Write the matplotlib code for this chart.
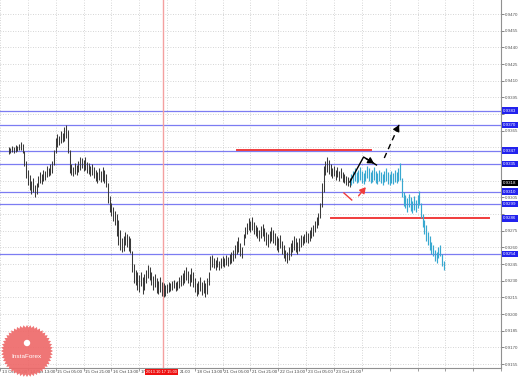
import matplotlib
matplotlib.use('Agg')
import matplotlib.pyplot as plt
import numpy as np
from matplotlib.patches import Polygon

plt.rcParams['font.family'] = ['Liberation Sans', 'DejaVu Sans']

# EURCHF H1 -- prices kept as pips above 0.9000
bar_hi = [350, 349, 351, 350, 352, 351, 353, 355, 353, 347, 338, 330, 325, 320, 322, 316,
          318, 324, 328, 326, 330, 329, 333, 331, 335, 338, 348, 358, 362, 360, 365, 363,
          368, 370, 366, 348, 335, 332, 336, 334, 338, 341, 340, 339, 341, 337, 336, 333,
          335, 332, 330, 328, 331, 329, 332, 330, 326, 318, 306, 300, 296, 293, 290, 285,
          276, 268, 270, 274, 272, 270, 268, 257, 245, 240, 238, 235, 238, 233, 236, 240,
          244, 242, 238, 234, 236, 232, 230, 233, 229, 228, 226, 227, 229, 228, 230, 231,
          229, 230, 233, 235, 237, 240, 242, 239, 236, 241, 238, 232, 228, 230, 233, 229,
          231, 228, 232, 238, 252, 253, 250, 249, 251, 248, 250, 252, 250, 253, 251, 254,
          256, 258, 262, 266, 269, 264, 260, 272, 278, 282, 286, 284, 287, 283, 280, 278,
          276, 279, 281, 277, 274, 272, 275, 278, 276, 273, 270, 268, 271, 266, 262, 258,
          256, 260, 264, 267, 270, 268, 265, 268, 271, 270, 272, 275, 273, 276, 278, 280,
          284, 287, 291, 300, 318, 333, 338, 341, 339, 335, 331, 333, 330, 332, 329, 331,
          328, 326, 324, 323, 322,
          # pasted continuation (cyan)
          326, 329, 331, 328, 330, 332, 329, 327, 330, 333, 331, 328, 330, 332, 329, 327,
          330, 328, 326, 329, 331, 328, 326, 329, 327, 330, 328, 331, 336, 322, 310, 307,
          304, 308, 305, 302, 306, 303, 307, 311, 300, 290, 285, 280, 274, 270, 265, 262,
          258, 256, 260, 262, 254, 248]
bar_lo = [344, 345, 346, 345, 346, 347, 348, 348, 345, 333, 322, 316, 312, 308, 310, 305,
          308, 314, 318, 317, 320, 321, 323, 324, 325, 327, 334, 345, 350, 352, 354, 355,
          356, 358, 345, 327, 325, 324, 326, 325, 328, 330, 331, 329, 330, 327, 326, 324,
          325, 322, 320, 318, 321, 319, 320, 318, 314, 300, 292, 288, 284, 280, 270, 262,
          258, 256, 257, 262, 260, 257, 255, 238, 228, 226, 222, 220, 225, 218, 222, 228,
          232, 231, 226, 222, 224, 219, 218, 220, 216, 215, 216, 219, 220, 221, 222, 223,
          221, 222, 223, 225, 226, 228, 231, 228, 225, 229, 224, 220, 216, 218, 221, 217,
          219, 215, 218, 226, 240, 242, 241, 240, 242, 240, 241, 243, 242, 244, 243, 245,
          246, 248, 250, 254, 256, 252, 250, 262, 268, 272, 276, 274, 276, 272, 270, 268,
          266, 268, 270, 266, 262, 260, 264, 266, 264, 262, 258, 256, 259, 254, 250, 248,
          246, 249, 252, 256, 258, 256, 254, 257, 260, 262, 264, 265, 264, 266, 268, 270,
          274, 277, 280, 286, 296, 310, 325, 328, 326, 324, 322, 324, 321, 323, 320, 322,
          319, 318, 316, 315, 314,
          316, 318, 320, 318, 319, 321, 318, 317, 320, 322, 320, 318, 319, 321, 318, 317,
          320, 318, 316, 319, 320, 317, 316, 318, 317, 319, 318, 320, 321, 305, 297, 295,
          292, 296, 293, 291, 294, 292, 295, 298, 286, 278, 272, 266, 262, 258, 254, 252,
          248, 246, 250, 252, 243, 240]
cyan_from = 197

blue_levels = [0.9383, 0.9370, 0.9347, 0.9335, 0.9310, 0.9299, 0.9254]
red_level = 0.9286
red_top_level = 0.9348
last_price = 0.9318
price_ticks = [0.9155 + 0.0015 * k for k in range(22)]

# bottom labels; the two under the red time tag only show their visible part
time_labels = ['13 Oct 21:00', '14 Oct 13:00', '15 Oct 05:00', '15 Oct 21:00', '16 Oct 13:00',
               '17', '', '18 Oct 13:00', '21 Oct 05:00', '21 Oct 21:00',
               '22 Oct 13:00', '23 Oct 05:00', '23 Oct 21:00']
after_tag_label = '21:00'
first_tick = -5      # bar index of '13 Oct 21:00'
bars_per_label = 16
vline_bar = 88.6
vline_text = '2013.10.17 15:00'

# forecast arrows (bar index, price)
black_path_x = [196.1, 204.0, 211.4]
black_path_y = [0.93188, 0.93413, 0.93341]
dash_x = [215.9, 224.4]
dash_y = [0.93404, 0.93701]
red_a_x = [192.7, 197.2]
red_a_y = [0.93089, 0.93026]
red_b_x = [200.1, 206.3]
red_b_y = [0.93044, 0.93161]

W, H = 519, 378
fig = plt.figure(figsize=(W / 100, H / 100), dpi=100)
fig.patch.set_facecolor('white')
ax = fig.add_axes([0, 10 / H, 501 / W, 368 / H])
ax.set_xlim(-0.5, 282.5)
ax.set_ylim(0.91514, 0.94826)

hi = 0.9 + np.array(bar_hi) / 1e4
lo = 0.9 + np.array(bar_lo) / 1e4
idx = np.arange(len(hi))

# grid
grid_kw = dict(color='#c8c8c8', lw=0.6, ls=(0, (1, 2)), zorder=0)
for p in price_ticks:
    ax.axhline(p, **grid_kw)
tick_bars = [first_tick + bars_per_label * k for k in range(19)]
for b in tick_bars:
    ax.axvline(b, **grid_kw)

# horizontal levels
for lv in blue_levels:
    ax.axhline(lv, color='#7c7cf2', lw=0.9, zorder=1)
ax.plot([185.4, 276.3], [red_level, red_level], color='#f03c3c', lw=1.4, zorder=1)
ax.plot([131.1, 208.0], [red_top_level, red_top_level], color='#f03c3c', lw=1.4, zorder=1)
ax.axvline(vline_bar, color='#f4a0a0', lw=1.0, zorder=1)

# bars
ax.vlines(idx[:cyan_from], lo[:cyan_from], hi[:cyan_from], colors='#3a3a3a', lw=0.75, zorder=3)
ax.vlines(idx[cyan_from:], lo[cyan_from:], hi[cyan_from:], colors='#38a8d0', lw=0.85, zorder=3)

# arrows
ahead = '-|>,head_length=0.35,head_width=0.2'
ax.plot(black_path_x, black_path_y, color='black', lw=1.0, zorder=5)
ax.annotate('', xy=(black_path_x[-1], black_path_y[-1]), xytext=(black_path_x[-2], black_path_y[-2]),
            arrowprops=dict(arrowstyle=ahead, color='black', lw=1.0), zorder=5)
ax.plot(dash_x, dash_y, color='black', lw=1.0, ls=(0, (4, 3)), zorder=5)
ax.annotate('', xy=(dash_x[1], dash_y[1]), xytext=(dash_x[1] - 0.8, dash_y[1] - 0.00025),
            arrowprops=dict(arrowstyle=ahead, color='black', lw=1.0), zorder=5)
ax.plot(red_a_x, red_a_y, color='#f03c3c', lw=1.0, zorder=5)
ax.annotate('', xy=(red_b_x[1], red_b_y[1]), xytext=(red_b_x[0], red_b_y[0]),
            arrowprops=dict(arrowstyle=ahead, color='#f03c3c', lw=1.0), zorder=5)

# axes frame
for s in ['left', 'top']:
    ax.spines[s].set_visible(False)
for s in ['right', 'bottom']:
    ax.spines[s].set_color('#909090')
    ax.spines[s].set_linewidth(0.8)

# right scale: labels hidden where a price tag sits on top of them
tags = blue_levels + [red_level, last_price]
ax.yaxis.tick_right()
ax.set_yticks(price_ticks)
ax.set_yticklabels(['' if min(abs(p - t) for t in tags) < 0.00045 else '%.4f' % p
                    for p in price_ticks])
ax.tick_params(axis='y', labelsize=3.2, colors='#555555', length=2, width=0.5, pad=1)
ax.set_xticks(tick_bars)
ax.set_xticklabels([])
ax.tick_params(axis='x', length=2, width=0.5, colors='#777777')

# time labels
xt = ax.get_xaxis_transform()
for k, lab in enumerate(time_labels):
    ax.text(first_tick + bars_per_label * k + 1.0, -0.012, lab, transform=xt, fontsize=3.2,
            color='#444444', ha='left', va='center', clip_on=False)
ax.text(vline_bar + 10.0, -0.012, after_tag_label, transform=xt, fontsize=3.2,
        color='#444444', ha='left', va='center', clip_on=False)
ax.text(vline_bar - 1.0, -0.012, vline_text, transform=xt, fontsize=2.9, color='white',
        ha='center', va='center', clip_on=False, zorder=6,
        bbox=dict(boxstyle='square,pad=0.25', fc='#ee1111', ec='none'))

# price tags
yt = ax.get_yaxis_transform()
for lv in blue_levels + [red_level]:
    ax.text(1.004, lv, '%.4f' % lv, transform=yt, fontsize=3.2, color='white', ha='left',
            va='center', clip_on=False, zorder=6,
            bbox=dict(boxstyle='square,pad=0.3', fc='#2222ee', ec='none'))
ax.text(1.004, last_price, '%.4f' % last_price, transform=yt, fontsize=3.2, color='white', ha='left',
        va='center', clip_on=False, zorder=6,
        bbox=dict(boxstyle='square,pad=0.3', fc='black', ec='none'))

# InstaForex badge
lax = fig.add_axes([0, 0, 1, 1])
lax.set_xlim(0, W)
lax.set_ylim(H, 0)
lax.axis('off')
n = 48
ang = np.linspace(0, 2 * np.pi, 2 * n, endpoint=False)
rad = np.where(np.arange(2 * n) % 2 == 0, 26.0, 23.5)
star = np.column_stack([27 + rad * np.cos(ang), 351 + rad * np.sin(ang)])
lax.add_patch(Polygon(star, closed=True, fc='#ee6a6a', ec='none', alpha=0.92))
lax.add_patch(plt.Circle((27, 343), 3.2, fc='white', ec='none'))
lax.text(27, 356, 'InstaForex', fontsize=4.6, color='white', ha='center', va='center')

fig.savefig('out.png', dpi=100)
